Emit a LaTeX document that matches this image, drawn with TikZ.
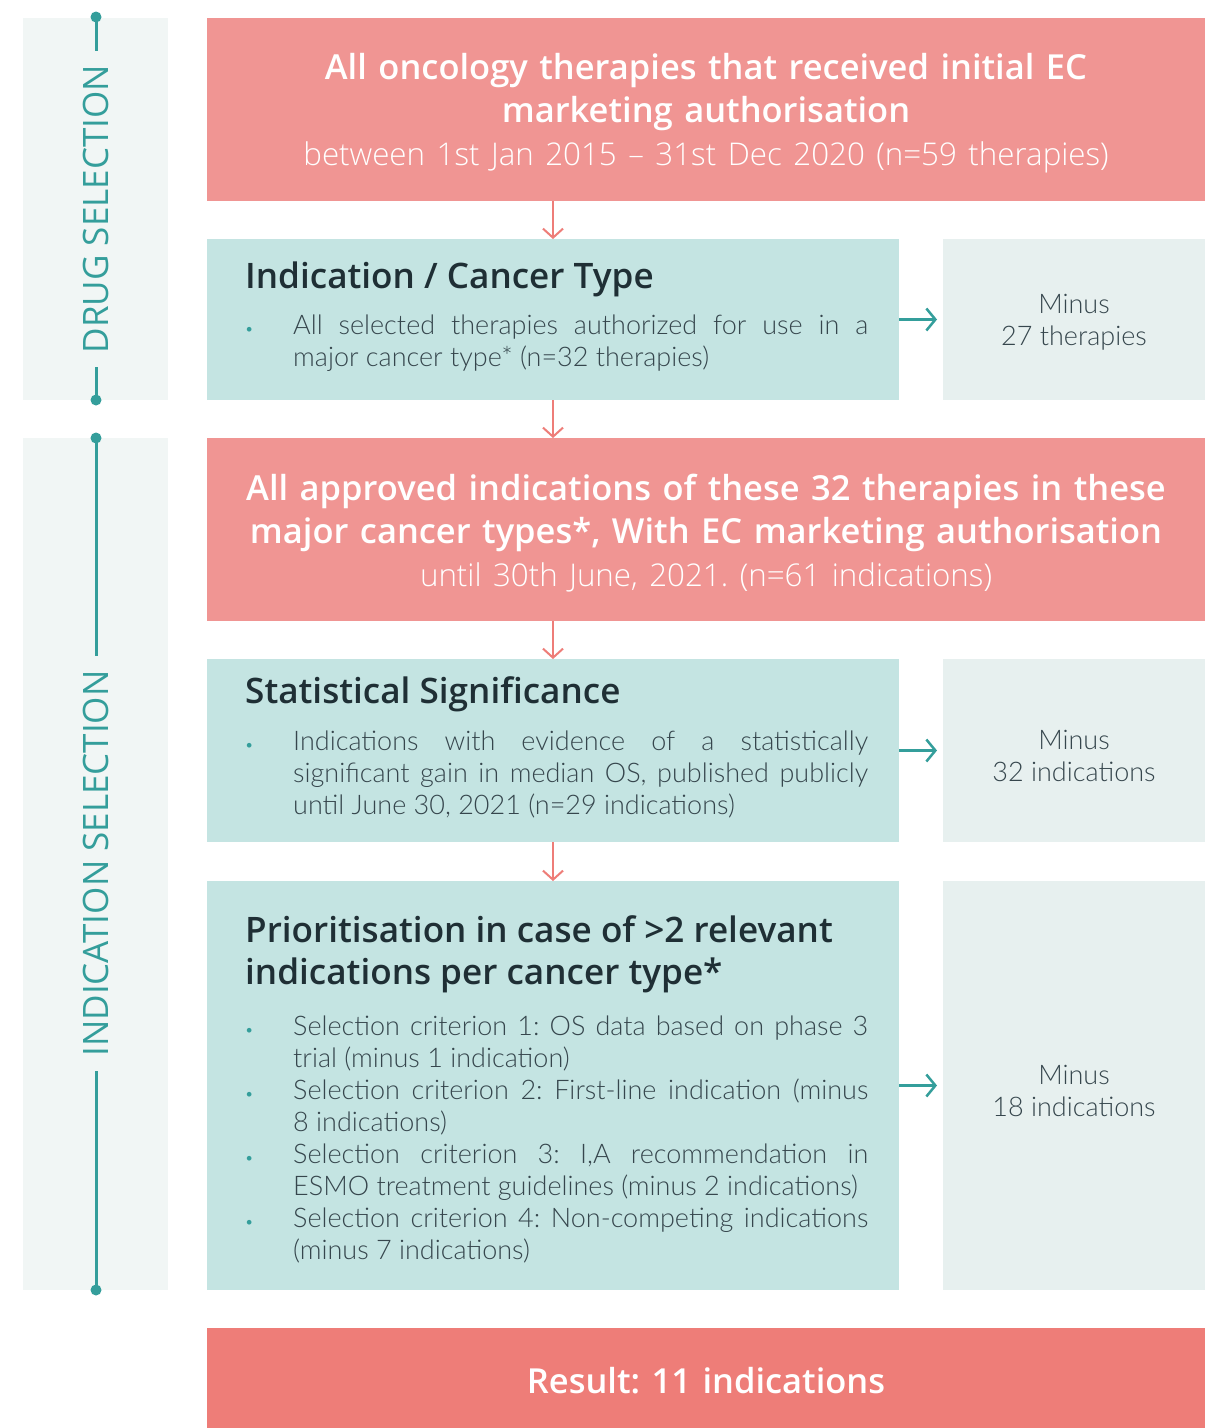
\documentclass[tikz,border=0pt]{standalone}
\usepackage{fontspec}
\usetikzlibrary{arrows.meta}
\newfontfamily\hfont{Open Sans}
\newfontfamily\lfont{Lato Light}
\newfontfamily\olfont{Open Sans Light}
\IfFontExistsTF{Open Sans SemiBold}{\newfontfamily\sbfont{Open Sans SemiBold}\def\hscale{1.045}}{%
 \IfFontExistsTF{Open Sans Semibold}{\newfontfamily\sbfont{Open Sans Semibold}\def\hscale{1.045}}{%
  \newfontfamily\sbfont{Open Sans Bold}\def\hscale{1.015}}}
\newcommand\hd[2]{\fontsize{\fpeval{#1*\hscale}}{#2}\selectfont}
\frenchspacing
\definecolor{redbox}{HTML}{F09593}
\definecolor{resbox}{HTML}{EE7D78}
\definecolor{tealbox}{HTML}{C4E4E2}
\definecolor{graybox}{HTML}{E7F0EF}
\definecolor{bandc}{HTML}{F1F6F5}
\definecolor{tealc}{HTML}{349E9B}
\definecolor{salmon}{HTML}{EE7D78}
\definecolor{headc}{HTML}{1F2F35}
\definecolor{bodyc}{HTML}{36464D}
\newcommand\bodyset{\tolerance=10000\relax\hbadness=10000\relax\hyphenpenalty=10000\relax\exhyphenpenalty=10000\relax\frenchspacing}
\newcommand\bitem[1]{\noindent\rightskip=0pt\relax\leftskip=0pt\relax\spaceskip=0pt\relax\xspaceskip=0pt\relax\parfillskip=0pt plus 1fil\relax\hangindent=45pt\relax\hangafter=1\relax\strut\makebox[45pt][l]{\kern-3.5pt\textcolor{tealc}{\fontsize{16}{16}\selectfont\textbullet}}#1\par}
\begin{document}
\begin{tikzpicture}[x=1pt,y=-1pt,
  rect/.style={draw=none,inner sep=0,outer sep=0,anchor=north west},
  redb/.style={rect,fill=redbox},
  tealb/.style={rect,fill=tealbox},
  grayb/.style={rect,fill=graybox},
  bandb/.style={rect,fill=bandc},
  title/.style={inner sep=0,anchor=north,text width=990pt,align=center,text=white,font=\sbfont\hd{33}{43}},
  head/.style={inner sep=0,anchor=north west,text=headc,font=\sbfont\hd{33.6}{42}},
  body/.style={inner sep=0,anchor=north west,text=bodyc,text width=620pt,
     font=\lfont\fontsize{27}{32}\selectfont\bodyset},
  minus/.style={inner sep=0,anchor=north,text=bodyc,align=center,font=\lfont\fontsize{27}{32}\selectfont},
  vlab/.style={rotate=90,fill=bandc,text=tealc,inner xsep=14pt,inner ysep=2pt,font=\hfont\fontsize{35}{35}\selectfont},
  darr/.style={draw=salmon,line width=2pt,-{Straight Barb[length=9pt,width=20pt,line width=2pt]}},
  rarr/.style={draw=tealc,line width=2.5pt,-{Straight Barb[length=9pt,width=22pt,line width=2.5pt]}},
  vline/.style={draw=tealc,line width=3pt}
]
\useasboundingbox (0,0) rectangle (1213,1428);
\fill[white] (0,0) rectangle (1213,1428);

% left bands
\node[bandb,minimum width=145pt,minimum height=382pt] (band1) at (23,18) {};
\node[bandb,minimum width=145pt,minimum height=852pt] (band2) at (23,438) {};
\coordinate (b1t) at (96,17);
\coordinate (b1b) at (96,400);
\coordinate (b2t) at (96,438);
\coordinate (b2b) at (96,1290);
\draw[vline] (b1t) -- (b1b);
\draw[vline] (b2t) -- (b2b);
\fill[tealc] (b1t) circle (5.5pt) (b1b) circle (5.5pt) (b2t) circle (5.5pt) (b2b) circle (5.5pt);
\node[vlab] (lab1) at (96,209) {DRUG SELECTION};
\node[vlab] (lab2) at (96,863.5) {INDICATION SELECTION};

% boxes
\node[redb,minimum width=998pt,minimum height=183pt] (top) at (207,18) {};
\node[tealb,minimum width=692pt,minimum height=161pt] (t1) at (207,239) {};
\node[grayb,minimum width=262pt,minimum height=161pt] (g1) at (943,239) {};
\node[redb,minimum width=998pt,minimum height=183pt] (mid) at (207,438) {};
\node[tealb,minimum width=692pt,minimum height=183pt] (t2) at (207,659) {};
\node[grayb,minimum width=262pt,minimum height=183pt] (g2) at (943,659) {};
\node[tealb,minimum width=692pt,minimum height=409pt] (t3) at (207,881) {};
\node[grayb,minimum width=262pt,minimum height=409pt] (g3) at (943,881) {};
\node[rect,fill=resbox,minimum width=998pt,minimum height=110pt] (res) at (207,1328) {};

% texts
\node[title] (toptxt) at (706,48.9) {\strut All oncology therapies that received initial EC\\ marketing authorisation\\ {\olfont\fontsize{31.3}{43}\selectfont between 1st Jan 2015 – 31st Dec 2020 (n=59 therapies)}};
\node[title] (midtxt) at (706,469.9) {\strut All approved indications of these 32 therapies in these\\ major cancer types*, With EC marketing authorisation\\ {\olfont\fontsize{31.3}{43}\selectfont until 30th June, 2021. (n=61 indications)}};

\node[head] (h1) at (245,258.6) {\strut Indication / Cancer Type};
\node[body] (x1) at (248,311.6) {\bitem{All selected therapies authorized for use in a\linebreak major cancer type* (n=32 therapies)}};
\node[minus] (m1) at (1074,290.6) {\strut Minus\\27 therapies};

\node[head] (h2) at (245,673.6) {\strut Statistical Significance};
\node[body] (x2) at (248,727.6) {\bitem{Indications with evidence of a statistically\linebreak significant gain in median OS, published publicly\linebreak until June 30, 2021 (n=29 indications)}};
\node[minus] (m2) at (1074,726.6) {\strut Minus\\32 indications};

\node[head,align=left] (h3) at (245,912.6) {\strut Prioritisation in case of >2 relevant\\indications per cancer type*};
\node[body] (x3) at (248,1012.6) {\bitem{Selection criterion 1: OS data based on phase 3\linebreak trial (minus 1 indication)}\bitem{Selection criterion 2: First-line indication (minus\linebreak 8 indications)}\bitem{Selection criterion 3: I,A recommendation in\linebreak ESMO treatment guidelines (minus 2 indications)}\bitem{Selection criterion 4: Non-competing indications\linebreak (minus 7 indications)}};
\node[minus] (m3) at (1074,1061.6) {\strut Minus\\18 indications};

\node[title,font=\sbfont\hd{33}{43}] (restxt) at (706,1362.9) {\strut Result: 11 indications};

% connectors
\draw[darr] (top.south -| t1.north) -- (t1.north);
\draw[darr] (t1.south) -- (mid.north -| t1.south);
\draw[darr] (mid.south -| t2.north) -- (t2.north);
\draw[darr] (t2.south) -- (t3.north);
\draw[rarr] (t1.east) -- ([xshift=-6pt]g1.west);
\draw[rarr] (t2.east) -- ([xshift=-6pt]g2.west);
\draw[rarr] (t3.east) -- ([xshift=-6pt]g3.west);
\end{tikzpicture}
\end{document}
